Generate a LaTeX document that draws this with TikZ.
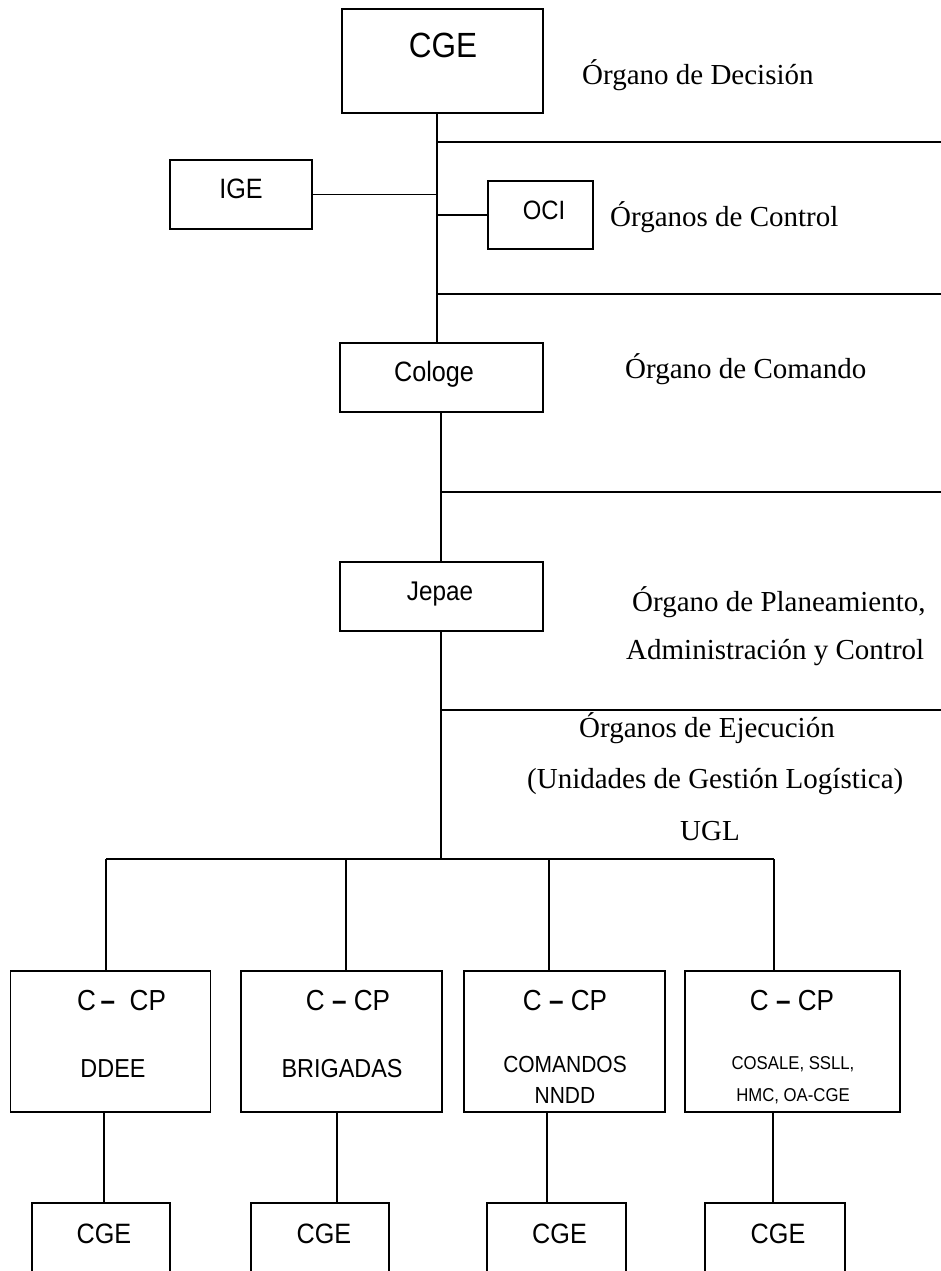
\documentclass[tikz,border=0pt]{standalone}
\usepackage{fontspec}
\setmainfont{Liberation Serif}
\newfontfamily\sfn[FakeStretch=0.9]{Liberation Sans}
\newcommand{\bardash}{{\bfseries –}}
\begin{document}
\begin{tikzpicture}[x=1pt,y=-1pt,
  box/.style={draw, line width=1.1pt, inner sep=0pt},
  link/.style={line width=1.4pt},
  rule/.style={line width=1.6pt},
  lbl/.style={inner sep=0pt, anchor=base west, font=\fontsize{29}{34}\selectfont},
  tag/.style={inner sep=0pt, anchor=base, font=\sfn\fontsize{#1}{#1}\selectfont},
]
\useasboundingbox (0,0) rectangle (941,1271);
\clip (0,0) rectangle (941,1271);

% ---- boxes ----
\node[box, minimum width=201pt, minimum height=104pt] (cge) at (442.5,61) {};
\node[box, minimum width=142pt, minimum height=69pt] (ige) at (241,194.5) {};
\node[box, minimum width=105pt, minimum height=68pt] (oci) at (540.5,215) {};
\node[box, minimum width=203pt, minimum height=69pt] (cologe) at (441.5,377.5) {};
\node[box, minimum width=203pt, minimum height=69pt] (jepae) at (441.5,596.5) {};

\node[box, minimum width=200pt, minimum height=141pt] (b1) at (110.8,1041.5) {};
\node[box, minimum width=201pt, minimum height=141pt] (b2) at (341.5,1041.5) {};
\node[box, minimum width=201pt, minimum height=141pt] (b3) at (564.5,1041.5) {};
\node[box, minimum width=215pt, minimum height=141pt] (b4) at (792.5,1041.5) {};

\node[box, minimum width=138pt, minimum height=150pt] (c1) at (101,1278) {};
\node[box, minimum width=138pt, minimum height=150pt] (c2) at (320,1278) {};
\node[box, minimum width=139pt, minimum height=150pt] (c3) at (556.5,1278) {};
\node[box, minimum width=140pt, minimum height=150pt] (c4) at (775,1278) {};

% ---- box texts ----
\node[tag=35] (tcge) at (443,58) {CGE};
\node[tag=28] (tige) at (241,198) {IGE};
\node[tag=26.5] (toci) at (544,219) {OCI};
\node[tag=28] (tcologe) at (434,381.7) {Cologe};
\node[tag=27] (tjepae) at (440,600) {Jepae};

\node[tag=29] (t1a) at (121.5,1010) {C\,\bardash\ \ CP};
\node[tag=26] (t1b) at (113,1077) {DDEE};
\node[tag=29] (t2a) at (348,1010) {C \bardash\ CP};
\node[tag=26] (t2b) at (342,1077) {BRIGADAS};
\node[tag=29] (t3a) at (565,1010) {C \bardash\ CP};
\node[tag=23.3] (t3b) at (565,1072) {COMANDOS};
\node[tag=23.3] (t3c) at (565,1103) {NNDD};
\node[tag=29] (t4a) at (792,1010) {C \bardash\ CP};
\node[tag=18.6] (t4b) at (793,1069) {COSALE, SSLL,};
\node[tag=18.6] (t4c) at (793,1101) {HMC, OA-CGE};

\node[tag=28] (tc1) at (104,1243) {CGE};
\node[tag=28] (tc2) at (324,1243) {CGE};
\node[tag=28] (tc3) at (559.5,1243) {CGE};
\node[tag=28] (tc4) at (778,1243) {CGE};

% ---- level labels ----
\node[lbl] (ldec) at (582,85) {Órgano de Decisión};
\node[lbl] (lctl) at (610,226) {Órganos de Control};
\node[lbl] (lcom) at (625,378) {Órgano de Comando};
\node[lbl] (lpla) at (632,611) {Órgano de Planeamiento,};
\node[lbl] (ladm) at (626,659) {Administración y Control};
\node[lbl] (leje) at (579,737) {Órganos de Ejecución};
\node[lbl] (lugl) at (527,788) {(Unidades de Gestión Logística)};
\node[lbl] (lugs) at (680,840) {UGL};

% ---- reference coordinates ----
\coordinate (spineA) at (437,0);
\coordinate (spineB) at (441,0);
\coordinate (edge) at (941,0);
\coordinate (r1) at (438,142);
\coordinate (r2) at (438,294);
\coordinate (r3) at (441,492);
\coordinate (r4) at (441,710);
\coordinate (bus) at (441,859);
\coordinate (d1) at (106,859);
\coordinate (d2) at (346,859);
\coordinate (d3) at (549,859);
\coordinate (d4) at (774,859);
\coordinate (l1) at (104,0);
\coordinate (l2) at (337,0);
\coordinate (l3) at (547,0);
\coordinate (l4) at (773,0);

% ---- connectors ----
\draw[link] (cge.south -| spineA) -- (cologe.north -| spineA);
\draw[link] (ige.east) -- (ige.east -| spineA);
\draw[link] (oci.west -| spineA) -- (oci.west);
\draw[link] (cologe.south -| spineB) -- (jepae.north -| spineB);
\draw[link] (jepae.south -| spineB) -- (bus);

\draw[rule] (r1) -- (r1 -| edge);
\draw[rule] (r2) -- (r2 -| edge);
\draw[rule] (r3) -- (r3 -| edge);
\draw[rule] (r4) -- (r4 -| edge);

\draw[link] (d1) -- (d4);
\draw[link] (d1) -- (d1 |- b1.north);
\draw[link] (d2) -- (d2 |- b2.north);
\draw[link] (d3) -- (d3 |- b3.north);
\draw[link] (d4) -- (d4 |- b4.north);

\draw[link] (b1.south -| l1) -- (c1.north -| l1);
\draw[link] (b2.south -| l2) -- (c2.north -| l2);
\draw[link] (b3.south -| l3) -- (c3.north -| l3);
\draw[link] (b4.south -| l4) -- (c4.north -| l4);
\end{tikzpicture}
\end{document}
